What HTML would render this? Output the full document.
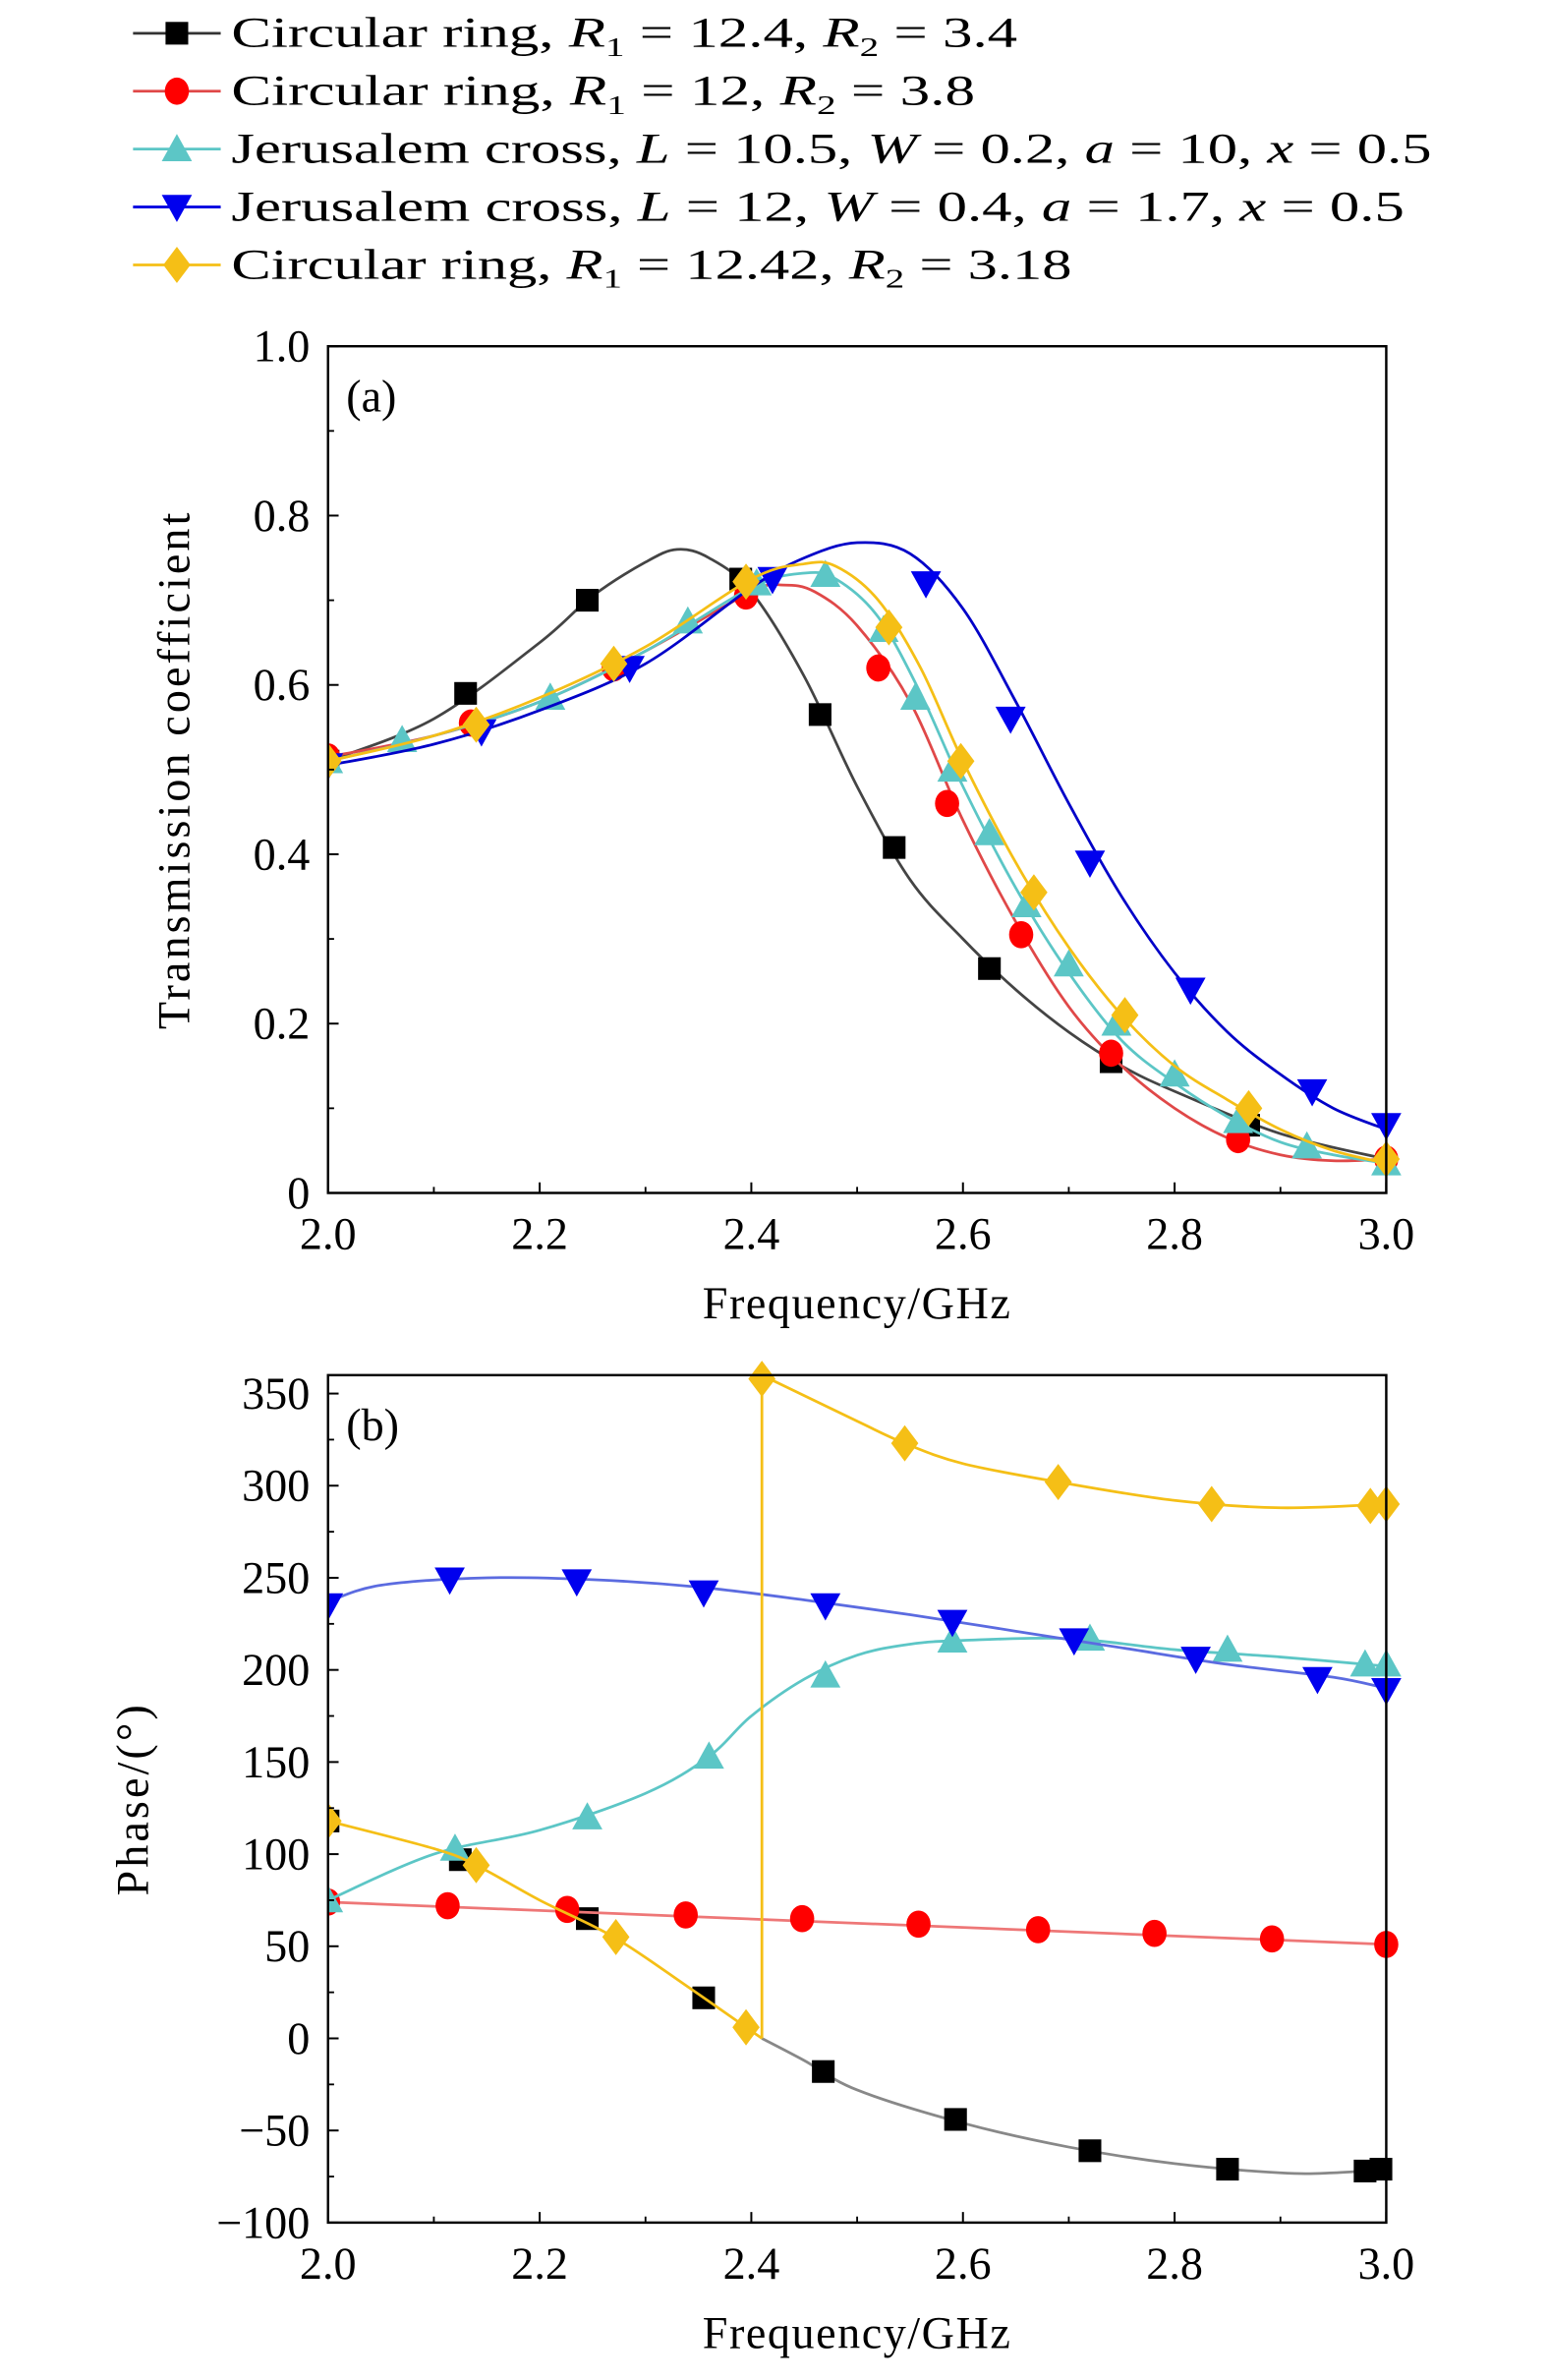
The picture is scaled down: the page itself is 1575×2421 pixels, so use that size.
<!DOCTYPE html>
<html><head><meta charset="utf-8"><style>
html,body{margin:0;padding:0;background:#fff}
svg{display:block}
text{font-family:"Liberation Serif",serif;fill:#000}
</style></head><body>
<svg id="chart" width="1575" height="2421" viewBox="0 0 1024 1574.1" preserveAspectRatio="none" xmlns="http://www.w3.org/2000/svg">
<g id="legend"></g>
<g id="pa"></g>
<g id="pb"></g>
</svg>
<script>
const NS="http://www.w3.org/2000/svg";
const seriesNames=["Circular ring R1=12.4 R2=3.4","Circular ring R1=12 R2=3.8","Jerusalem cross L=10.5","Jerusalem cross L=12","Circular ring R1=12.42 R2=3.18"];
const xTicks=[2.0,2.2,2.4,2.6,2.8,3.0];
const aYTicks=[0,0.2,0.4,0.6,0.8,1.0];
const aYLabels=["0","0.2","0.4","0.6","0.8","1.0"];
const bYTicks=[-100,-50,0,50,100,150,200,250,300,350];
// Panel (a) curves
const aBlackX=[2.0,2.1,2.2,2.25,2.3,2.33,2.36,2.4,2.45,2.5,2.55,2.6,2.65,2.7,2.75,2.8,2.9,3.0];
const aBlackY=[.51,.56,.65,.705,.745,.76,.75,.71,.61,.48,.37,.30,.24,.19,.15,.12,.07,.04];
const aRedX=[2.0,2.1,2.2,2.3,2.4,2.43,2.46,2.5,2.55,2.6,2.65,2.7,2.75,2.8,2.85,2.9,2.95,3.0];
const aRedY=[.515,.54,.58,.64,.71,.718,.71,.67,.58,.44,.32,.22,.15,.10,.065,.045,.038,.04];
const aCyanX=[2.0,2.1,2.2,2.3,2.4,2.45,2.48,2.52,2.56,2.6,2.65,2.7,2.75,2.8,2.85,2.9,2.95,3.0];
const aCyanY=[.51,.54,.58,.64,.715,.732,.725,.68,.59,.48,.36,.26,.18,.13,.09,.06,.045,.035];
const aBlueX=[2.0,2.1,2.2,2.3,2.4,2.45,2.5,2.55,2.6,2.65,2.7,2.75,2.8,2.85,2.9,2.95,3.0];
const aBlueY=[.505,.53,.57,.625,.715,.75,.768,.755,.69,.58,.46,.35,.26,.19,.14,.10,.075];
const aYelX=[2.0,2.1,2.2,2.3,2.4,2.45,2.48,2.52,2.56,2.6,2.65,2.7,2.75,2.8,2.85,2.9,2.95,3.0];
const aYelY=[.51,.54,.585,.645,.725,.743,.74,.70,.62,.51,.39,.29,.21,.15,.11,.075,.05,.035];
// Panel (a) markers
const aBlackMX=[2.0,2.13,2.245,2.39,2.465,2.535,2.625,2.74,2.87];
const aBlackMY=[.51,.59,.70,.725,.565,.408,.265,.155,.08];
const aRedMX=[2.0,2.135,2.27,2.395,2.52,2.585,2.655,2.74,2.86,3.0];
const aRedMY=[.515,.555,.62,.705,.62,.46,.305,.165,.063,.04];
const aCyanMX=[2.0,2.07,2.21,2.34,2.405,2.47,2.525,2.555,2.59,2.625,2.66,2.70,2.745,2.80,2.86,2.925,3.0];
const aCyanMY=[.51,.535,.585,.675,.72,.73,.665,.585,.50,.425,.34,.27,.20,.14,.085,.055,.035];
const aBlueMX=[2.0,2.145,2.285,2.42,2.565,2.645,2.72,2.815,2.93,3.0];
const aBlueMY=[.505,.545,.62,.725,.72,.56,.39,.24,.12,.08];
const aYelMX=[2.0,2.14,2.27,2.395,2.53,2.598,2.667,2.753,2.87,3.0];
const aYelMY=[.51,.553,.625,.722,.668,.51,.355,.21,.10,.04];
// Panel (b) curves
const bBlackX=[2.41,2.45,2.5,2.6,2.7,2.8,2.9,2.95,3.0];
const bBlackY=[0,-12,-28,-46,-59,-68,-73,-73,-71];
const bRedX=[2.0,3.0];
const bRedY=[74,51];
const bCyanX=[2.0,2.1,2.2,2.3,2.36,2.4,2.45,2.5,2.55,2.6,2.7,2.8,2.9,3.0];
const bCyanY=[75,100,113,133,153,175,195,208,214,216,217,211,207,202];
const bBlueX=[2.0,2.05,2.15,2.25,2.35,2.45,2.55,2.65,2.75,2.85,2.95,3.0];
const bBlueY=[237,246,250,249,245,238,230,221,212,203,196,190];
const bYel1X=[2.0,2.1,2.14,2.2,2.27,2.34,2.395,2.41];
const bYel1Y=[118,103,94,75,55,28,6,0];
const bJumpX=[2.41,2.41];
const bJumpY=[0,360];
const bYel2X=[2.41,2.5,2.545,2.6,2.69,2.8,2.9,3.0];
const bYel2Y=[360,335,323,312,302,292,288,290];
// Panel (b) markers
const bBlackMX=[2.0,2.125,2.245,2.355,2.468,2.593,2.72,2.85,2.98,2.995];
const bBlackMY=[118,97,65,22,-18,-44,-61,-71,-72,-71];
const bRedMX=[2.0,2.113,2.226,2.338,2.448,2.558,2.671,2.781,2.892,3.0];
const bRedMY=[74,72,70,67,65,62,59,57,54,51];
const bCyanMX=[2.0,2.12,2.245,2.36,2.47,2.59,2.72,2.85,2.98,3.0];
const bCyanMY=[75,103,120,153,197,216,217,211,203,203];
const bBlueMX=[2.0,2.115,2.235,2.355,2.47,2.59,2.705,2.82,2.935,3.0];
const bBlueMY=[235,249,248,242,235,226,216,206,195,189];
const bYelMX=[2.0,2.14,2.272,2.395,2.41,2.545,2.69,2.835,2.985,3.0];
const bYelMY=[118,94,55,6,358,323,302,290,289,290];

function mk(tag,attrs,parent){const e=document.createElementNS(NS,tag);for(const k in attrs)e.setAttribute(k,attrs[k]);if(parent)parent.appendChild(e);return e;}
function smooth(pts){if(pts.length<3)return "M"+pts.map(p=>p.join(",")).join("L");let d="M"+pts[0][0]+","+pts[0][1];for(let i=0;i<pts.length-1;i++){const p0=pts[i-1]||pts[i],p1=pts[i],p2=pts[i+1],p3=pts[i+2]||p2;const c1=[p1[0]+(p2[0]-p0[0])/6,p1[1]+(p2[1]-p0[1])/6],c2=[p2[0]-(p3[0]-p1[0])/6,p2[1]-(p3[1]-p1[1])/6];d+="C"+c1+" "+c2+" "+p2;}return d;}
function marker(g,type,x,y,color){let e;const s=7.5;
 if(type==="sq")e=mk("rect",{x:x-s,y:y-s,width:2*s,height:2*s,fill:color},g);
 else if(type==="ci")e=mk("ellipse",{cx:x,cy:y,rx:8,ry:9,fill:color},g);
 else if(type==="up")e=mk("polygon",{points:`${x},${y-10} ${x+10},${y+8} ${x-10},${y+8}`,fill:color},g);
 else if(type==="dn")e=mk("polygon",{points:`${x},${y+10} ${x+10},${y-8} ${x-10},${y-8}`,fill:color},g);
 else e=mk("polygon",{points:`${x},${y-12} ${x+9},${y} ${x},${y+12} ${x-9},${y}`,fill:color},g);
 return e;}
const X0=217,X1=917;
function sx(v){return X0+(v-2)/(1)*(X1-X0);}

// Legend
const lg=document.getElementById('legend');
const legTypes=["sq","ci","up","dn","di"],legLine=["#333","#e04848","#5cc6c6","#0000e0","#f5bf16"],legMark=["#000","#f00","#5cc6c6","#0000ee","#f5bf16"];
const legText=[
 'Circular ring, <tspan font-style="italic">R</tspan><tspan font-size="18" dy="6">1</tspan><tspan dy="-6"> = 12.4, </tspan><tspan font-style="italic">R</tspan><tspan font-size="18" dy="6">2</tspan><tspan dy="-6"> = 3.4</tspan>',
 'Circular ring, <tspan font-style="italic">R</tspan><tspan font-size="18" dy="6">1</tspan><tspan dy="-6"> = 12, </tspan><tspan font-style="italic">R</tspan><tspan font-size="18" dy="6">2</tspan><tspan dy="-6"> = 3.8</tspan>',
 'Jerusalem cross, <tspan font-style="italic">L</tspan> = 10.5, <tspan font-style="italic">W</tspan> = 0.2, <tspan font-style="italic">a</tspan> = 10, <tspan font-style="italic">x</tspan> = 0.5',
 'Jerusalem cross, <tspan font-style="italic">L</tspan> = 12, <tspan font-style="italic">W</tspan> = 0.4, <tspan font-style="italic">a</tspan> = 1.7, <tspan font-style="italic">x</tspan> = 0.5',
 'Circular ring, <tspan font-style="italic">R</tspan><tspan font-size="18" dy="6">1</tspan><tspan dy="-6"> = 12.42, </tspan><tspan font-style="italic">R</tspan><tspan font-size="18" dy="6">2</tspan><tspan dy="-6"> = 3.18</tspan>'];
const legWidths=[520,492,794,776,556];
for(let i=0;i<5;i++){const y=22+i*38.3;
 const g=mk("g",{},lg);
 
 
 mk("line",{x1:88,x2:146,y1:y,y2:y,stroke:legLine[i],"stroke-width":1.8},g);
 marker(g,legTypes[i],117,y,legMark[i]);
 const t=mk("text",{x:153,y:y+9,"font-size":28,textLength:legWidths[i],lengthAdjust:"spacingAndGlyphs"},g);
 t.innerHTML=legText[i];
}

function panel(g,YT,YB,ymin,ymax,yticks,ylabels,yminor,label,ytitle,ytitleX,series){
 const sy=v=>YB-(v-ymin)/(ymax-ymin)*(YB-YT);
 const clipId="clip"+label;
 const cp=mk("clipPath",{id:clipId},g);mk("rect",{x:X0,y:YT-14,width:X1-X0+14,height:YB-YT+28},cp);
 const sg=mk("g",{"clip-path":`url(#${clipId})`},g);
 for(const s of series){
  for(const c of s.curves){
   const p=mk("path",{d:smooth(c[0].map((v,i)=>[sx(v),sy(c[1][i])])),fill:"none",stroke:s.line,"stroke-width":1.8},sg);
   
   
  }
  s.mx.forEach((v,i)=>{const m=marker(sg,s.type,sx(v),sy(s.my[i]),s.mark);
   
   });
 }
 const fr=mk("rect",{x:X0,y:YT,width:X1-X0,height:YB-YT,fill:"none",stroke:"#000","stroke-width":1.6},g);
 
 
 xTicks.forEach((v,i)=>{mk("line",{x1:sx(v),x2:sx(v),y1:YB,y2:YB-7,stroke:"#000","stroke-width":1.3},g);
  if(i<xTicks.length-1){const m=(v+xTicks[i+1])/2;mk("line",{x1:sx(m),x2:sx(m),y1:YB,y2:YB-4,stroke:"#000","stroke-width":1.2},g);}
  const t=mk("text",{x:sx(v),y:YB+37,"font-size":30,"text-anchor":"middle"},g);t.textContent=v.toFixed(1);
  
  });
 yticks.forEach((v,i)=>{mk("line",{x1:X0,x2:X0+7,y1:sy(v),y2:sy(v),stroke:"#000","stroke-width":1.3},g);
  if(i<yticks.length-1){const m=(v+yticks[i+1])/2;mk("line",{x1:X0,x2:X0+4,y1:sy(m),y2:sy(m),stroke:"#000","stroke-width":1.2},g);}
  const t=mk("text",{x:X0-12,y:sy(v)+10,"font-size":30,"text-anchor":"end"},g);t.textContent=ylabels[i];
  
  });
 const xt=mk("text",{x:567,y:YB+83,"font-size":30,"text-anchor":"middle","letter-spacing":1},g);xt.textContent="Frequency/GHz";
 
 
 const yt=mk("text",{x:0,y:0,"font-size":30,"text-anchor":"middle","letter-spacing":2,transform:`translate(${ytitleX},${(YT+YB)/2}) rotate(-90)`},g);yt.textContent=ytitle;
 
 
 const pl=mk("text",{x:229,y:YT+43,"font-size":30},g);pl.textContent="("+label+")";
 
 
}
panel(document.getElementById('pa'),229,789,0,1,aYTicks,aYLabels,true,"a","Transmission coefficient",125,[
 {type:"sq",line:"#444",mark:"#000",curves:[[aBlackX,aBlackY]],mx:aBlackMX,my:aBlackMY},
 {type:"ci",line:"#e04848",mark:"#f00",curves:[[aRedX,aRedY]],mx:aRedMX,my:aRedMY},
 {type:"up",line:"#5cc6c6",mark:"#5cc6c6",curves:[[aCyanX,aCyanY]],mx:aCyanMX,my:aCyanMY},
 {type:"dn",line:"#0000c8",mark:"#0000ee",curves:[[aBlueX,aBlueY]],mx:aBlueMX,my:aBlueMY},
 {type:"di",line:"#f5bf16",mark:"#f5bf16",curves:[[aYelX,aYelY]],mx:aYelMX,my:aYelMY}]);
panel(document.getElementById('pb'),909.5,1470,-100,360,bYTicks,bYTicks.map(v=>v<0?"\u2212"+(-v):String(v)),true,"b","Phase/(°)",98,[
 {type:"sq",line:"#888",mark:"#000",curves:[[bBlackX,bBlackY]],mx:bBlackMX,my:bBlackMY},
 {type:"ci",line:"#ee7777",mark:"#f00",curves:[[bRedX,bRedY]],mx:bRedMX,my:bRedMY},
 {type:"up",line:"#5cc6c6",mark:"#5cc6c6",curves:[[bCyanX,bCyanY]],mx:bCyanMX,my:bCyanMY},
 {type:"dn",line:"#5b6be0",mark:"#0000ee",curves:[[bBlueX,bBlueY]],mx:bBlueMX,my:bBlueMY},
 {type:"di",line:"#f5bf16",mark:"#f5bf16",curves:[[bYel1X,bYel1Y],[bJumpX,bJumpY],[bYel2X,bYel2Y]],mx:bYelMX,my:bYelMY}]);
</script>
</body></html>
